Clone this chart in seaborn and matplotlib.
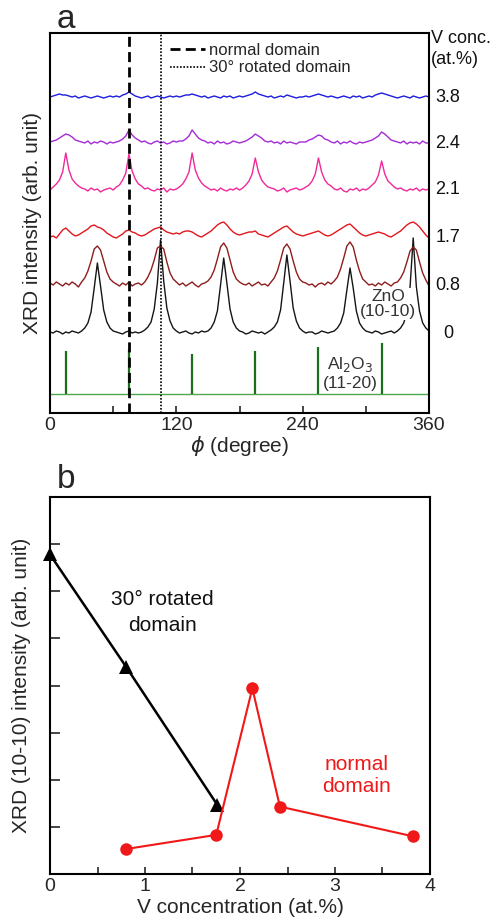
import numpy as np
import pandas as pd
import matplotlib
matplotlib.use("Agg")
import matplotlib.pyplot as plt
from matplotlib.ticker import MultipleLocator, NullFormatter
import seaborn as sns

# ---------------- data: panel a (phi scans, 3 degree grid) ----------------
phi = np.arange(0, 361, 3)

black_0 = [1,0,2,1,-1,1,0,2,1,0, 2,5,10,21,45,70,47,23,11,5,
           2,1,0,-1,1,2,0,1,0,1, 3,6,11,24,50,93,52,25,12,5,
           2,0,1,2,0,-1,1,0,2,1, 2,5,11,22,48,75,50,24,11,5,
           2,1,-1,0,2,1,0,1,-1,1, 3,6,11,23,50,78,52,25,12,5,
           2,0,1,1,-1,0,2,1,0,1, 2,5,10,20,43,65,45,22,10,5,
           2,1,0,2,1,-1,0,1,2,0, 2,5,10,21,46,95,46,22,10,5,
           2]
darkred_08 = [2,0,3,1,-1,2,0,3,1,-2, 3,7,14,24,36,39,35,24,13,6,
              3,1,-1,2,0,3,-1,1,2,0, 3,8,15,25,37,39,36,23,12,6,
              3,0,2,-1,1,3,0,-2,1,2, 4,8,15,26,38,42,37,25,13,6,
              3,1,0,2,-1,1,3,0,1,-1, 3,7,14,25,37,41,36,24,13,6,
              3,2,0,1,-2,1,2,0,3,1, 4,8,16,27,39,43,38,25,14,6,
              3,0,1,-1,2,0,3,1,-1,2, 3,7,13,23,34,38,35,23,12,5,
              -1]
red_17 = [0,1,-1,3,7,9,6,3,1,2, 4,6,8,11,12,10,9,7,4,2,
          0,-1,1,3,6,7,5,4,2,1, 2,4,6,8,9,10,7,5,4,3,
          4,3,5,6,6,5,3,1,0,2, 4,6,9,12,14,15,12,8,5,3,
          2,3,4,5,5,6,3,2,1,0, 2,4,6,8,10,11,8,5,3,2,
          1,2,3,4,5,6,4,2,1,2, 4,6,8,10,12,13,10,7,4,2,
          1,2,3,4,5,4,3,1,0,2, 4,6,9,12,14,15,13,10,6,2,
          -1]
pink_21 = [0, 3,6,10,18,37,20,11,7,4,2, 1,-1,2,0,1,-2,0,1,2,
           0, 3,5,10,17,36,19,11,6,4,1, 2,0,-1,1,0,2,-2,1,0,
           1, 3,6,11,18,37,20,12,7,4,2, 0,1,-1,2,0,-1,1,0,2,
           0, 2,5,9,16,32,18,10,6,3,2, 1,-1,0,2,-2,0,1,2,0,
           1, 3,5,9,16,32,18,10,6,4,1, 0,2,-1,-2,1,0,2,-1,1,
           0, 2,5,8,15,29,16,9,6,3,1, 2,0,-1,1,0,2,-1,1,0,
           1]
purple_24 = [1, 2,3,5,7,9,8,6,3,2,1, 0,2,-1,1,0,2,1,-1,1,
             0, 1,2,4,7,13,8,5,3,1,2, 0,-1,1,2,0,1,-1,0,2,
             1, 2,2,4,7,13,9,5,3,2,0, 1,-1,2,0,1,-1,0,2,1,
             0, 1,2,4,6,9,7,5,2,1,2, 0,1,-1,2,0,1,0,-1,1,
             1, 1,3,4,6,8,7,4,3,1,0, 2,-1,1,0,2,0,-1,1,0,
             1, 2,3,5,7,11,9,6,3,2,1, 0,2,-1,1,0,1,-1,2,0,
             0]
blue_38 = [0, 1,2,3,2,2,1,0,1,-1,0, 1,0,-1,0,1,0,-1,0,1,
           0, 1,0,2,3,5,3,1,0,-1,0, 1,-1,0,1,0,-1,0,1,0,
           1, 0,1,2,2,3,2,1,0,1,-1, 0,1,0,-1,1,0,1,-1,0,
           1, 0,1,2,3,5,3,2,1,0,1, -1,0,1,0,2,1,0,-1,0,
           0, 1,0,1,2,3,2,1,0,1,0, -1,0,1,0,-1,1,0,1,-1,
           0, 1,0,2,3,4,3,2,1,0,-1, 0,1,0,-1,1,0,-1,0,1,
           0]

conc_labels = ["0", "0.8", "1.7", "2.1", "2.4", "3.8"]
curves = [black_0, darkred_08, red_17, pink_21, purple_24, blue_38]
offsets = [80, 128, 176, 223, 270, 316]
colors_a = ["#151515", "#8e1d1d", "#e3161c", "#f0289b", "#a52ad6", "#1c1ce0"]

al2o3_phi = [15, 75, 135, 195, 255, 315]
al2o3_h = [43, 45, 40, 43, 47, 51]
al2o3_base = 19

normal_phi = 75
rotated_phi = 105

# ---------------- data: panel b ----------------
v_rot = [0.0, 0.8, 1.76]
i_rot = [6.78, 4.40, 1.47]
v_norm = [0.80, 1.75, 2.13, 2.42, 3.82]
i_norm = [0.53, 0.83, 3.94, 1.43, 0.80]

# ---------------- style ----------------
sns.set_style("white")
plt.rcParams["font.family"] = ["Liberation Sans", "DejaVu Sans"]
plt.rcParams["xtick.direction"] = "in"
plt.rcParams["ytick.direction"] = "in"

W, H = 501, 919
fig = plt.figure(figsize=(W / 100, H / 100), dpi=100)
ax1 = fig.add_axes([50 / W, 506 / H, 379 / W, 380 / H])
ax2 = fig.add_axes([50 / W, 45 / H, 380 / W, 377 / H])

# ---------------- panel a ----------------
for vals, off, col in zip(curves, offsets, colors_a):
    y = np.asarray(vals, dtype=float) + off
    sns.lineplot(x=phi, y=y, color=col, linewidth=1.0, ax=ax1, zorder=2)

ax1.axhline(al2o3_base, color="#4fa84f", linewidth=1.0, zorder=1)
ax1.vlines(al2o3_phi, al2o3_base, [al2o3_base + h for h in al2o3_h],
           color="#1b6f1b", linewidth=1.6, zorder=2)

l1 = ax1.axvline(normal_phi, color="black", linewidth=2.0,
                 linestyle=(0, (3.6, 1.9)), zorder=3, label="normal domain")
l2 = ax1.axvline(rotated_phi, color="black", linewidth=1.2,
                 linestyle=(0, (1, 1)), zorder=3, label="30° rotated domain")
ax1.legend(handles=[l1, l2], loc="upper left", bbox_to_anchor=(0.29, 1.0),
           frameon=False, fontsize=12, handlelength=2.1, handletextpad=0.25,
           labelspacing=0.15, borderaxespad=0.3, borderpad=0.3)

ax1.set_xlim(0, 360)
ax1.set_ylim(0, 380)
ax1.set_yticks([])
ax1.xaxis.set_major_locator(MultipleLocator(120))
ax1.xaxis.set_minor_locator(MultipleLocator(60))
ax1.tick_params(axis="x", which="both", direction="in", length=5, width=1.2,
                labelsize=14, bottom=True, top=False, pad=3)
ax1.set_xlabel(r"$\phi$ (degree)", fontsize=15, labelpad=0)
ax1.set_ylabel("XRD intensity (arb. unit)", fontsize=15, labelpad=6)
for s in ax1.spines.values():
    s.set_linewidth(1.5)
    s.set_color("black")

for lab, off in zip(conc_labels, offsets):
    ax1.text(1.05, off, lab, transform=ax1.get_yaxis_transform(),
             ha="center", va="center", fontsize=13, color="#111111")
ax1.text(1.005, 0.958, "V conc.\n(at.%)", transform=ax1.transAxes,
         ha="left", va="center", fontsize=13, color="#111111", linespacing=1.25)

ax1.text(321, 109, "ZnO\n(10-10)", ha="center", va="center", fontsize=12.5,
         color="#333333", linespacing=1.05, zorder=4,
         bbox=dict(facecolor="white", edgecolor="none", pad=0.3))
ax1.text(285, 40, "Al$_2$O$_3$\n(11-20)", ha="center", va="center", fontsize=12.5,
         color="#333333", linespacing=1.1, zorder=4)

fig.text(57 / W, 1 - 28 / H, "a", fontsize=24, va="baseline", ha="left")

# ---------------- panel b ----------------
sns.lineplot(x=v_rot, y=i_rot, color="black", linewidth=1.8, marker="^",
             markersize=10, markeredgewidth=0, ax=ax2, clip_on=False, zorder=3)
sns.lineplot(x=v_norm, y=i_norm, color="#f01818", linewidth=1.5, marker="o",
             markersize=9, markeredgewidth=0, ax=ax2, clip_on=False, zorder=4)

ax2.set_xlim(0, 4)
ax2.set_ylim(0, 8)
ax2.xaxis.set_major_locator(MultipleLocator(1))
ax2.xaxis.set_minor_locator(MultipleLocator(0.5))
ax2.set_yticks([1, 2, 3, 4, 5, 6, 7])
ax2.yaxis.set_major_formatter(NullFormatter())
ax2.tick_params(axis="x", which="both", direction="in", length=5, width=1.2,
                labelsize=14, bottom=True, top=False, pad=3)
ax2.tick_params(axis="y", which="both", direction="in", length=7, width=1.2,
                left=True, right=False)
ax2.set_xlabel("V concentration (at.%)", fontsize=15, labelpad=2)
ax2.set_ylabel("XRD (10-10) intensity (arb. unit)", fontsize=15, labelpad=10)
for s in ax2.spines.values():
    s.set_linewidth(1.5)
    s.set_color("black")

ax2.text(1.18, 5.55, "30° rotated\ndomain", ha="center", va="center",
         fontsize=15, color="#111111", linespacing=1.45)
ax2.text(3.23, 2.08, "normal\ndomain", ha="center", va="center",
         fontsize=15, color="#f01818", linespacing=1.2)

fig.text(57 / W, 1 - 488 / H, "b", fontsize=24, va="baseline", ha="left")

fig.savefig("out.png", dpi=100)
